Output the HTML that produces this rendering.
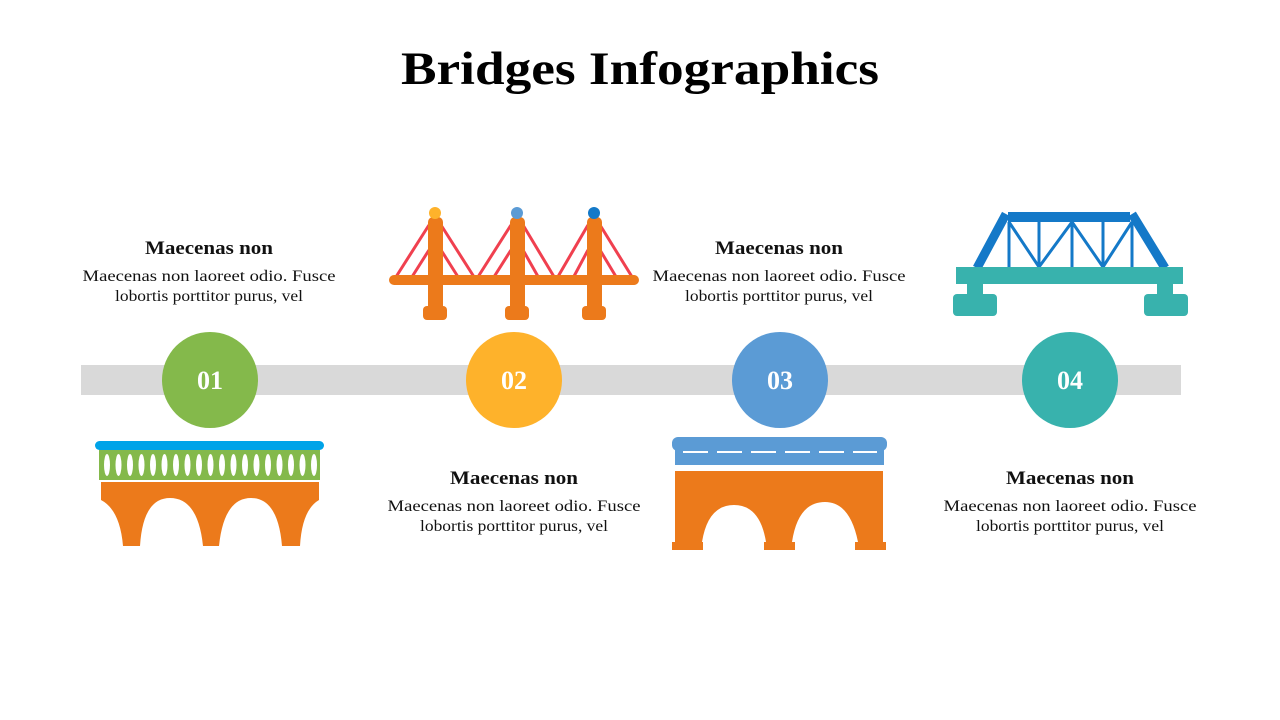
<!DOCTYPE html>
<html><head><meta charset="utf-8"><style>
html,body{margin:0;padding:0;background:#fff;}
svg{display:block;}
text{font-family:"Liberation Serif",serif;}
</style></head><body>
<svg width="1280" height="720" viewBox="0 0 1280 720" xmlns="http://www.w3.org/2000/svg">
<text x="640" y="84" text-anchor="middle" font-size="47" font-weight="bold" fill="#000" textLength="478" lengthAdjust="spacingAndGlyphs">Bridges Infographics</text>

<!-- timeline -->
<rect x="81" y="365" width="1100" height="30" fill="#d9d9d9"/>
<circle cx="210" cy="380" r="48" fill="#84b94b"/>
<circle cx="514" cy="380" r="48" fill="#feb22b"/>
<circle cx="780" cy="380" r="48" fill="#5b9bd5"/>
<circle cx="1070" cy="380" r="48" fill="#38b2ad"/>
<g font-size="26" font-weight="bold" fill="#fff" text-anchor="middle">
<text x="210" y="389">01</text><text x="514" y="389">02</text><text x="780" y="389">03</text><text x="1070" y="389">04</text>
</g>

<!-- text blocks -->
<g text-anchor="middle" fill="#111">
<g transform="translate(209,0)">
<text x="0" y="254" font-size="19" font-weight="bold" textLength="128" lengthAdjust="spacingAndGlyphs">Maecenas non</text>
<text x="0" y="281" font-size="16" textLength="253" lengthAdjust="spacingAndGlyphs">Maecenas non laoreet odio. Fusce</text>
<text x="0" y="301" font-size="16" textLength="188" lengthAdjust="spacingAndGlyphs">lobortis porttitor purus, vel</text>
</g>
<g transform="translate(779,0)">
<text x="0" y="254" font-size="19" font-weight="bold" textLength="128" lengthAdjust="spacingAndGlyphs">Maecenas non</text>
<text x="0" y="281" font-size="16" textLength="253" lengthAdjust="spacingAndGlyphs">Maecenas non laoreet odio. Fusce</text>
<text x="0" y="301" font-size="16" textLength="188" lengthAdjust="spacingAndGlyphs">lobortis porttitor purus, vel</text>
</g>
<g transform="translate(514,230)">
<text x="0" y="254" font-size="19" font-weight="bold" textLength="128" lengthAdjust="spacingAndGlyphs">Maecenas non</text>
<text x="0" y="281" font-size="16" textLength="253" lengthAdjust="spacingAndGlyphs">Maecenas non laoreet odio. Fusce</text>
<text x="0" y="301" font-size="16" textLength="188" lengthAdjust="spacingAndGlyphs">lobortis porttitor purus, vel</text>
</g>
<g transform="translate(1070,230)">
<text x="0" y="254" font-size="19" font-weight="bold" textLength="128" lengthAdjust="spacingAndGlyphs">Maecenas non</text>
<text x="0" y="281" font-size="16" textLength="253" lengthAdjust="spacingAndGlyphs">Maecenas non laoreet odio. Fusce</text>
<text x="0" y="301" font-size="16" textLength="188" lengthAdjust="spacingAndGlyphs">lobortis porttitor purus, vel</text>
</g>
</g>

<!-- bridge 1 -->
<rect x="95" y="441" width="229" height="9" rx="4.5" fill="#00a3e8"/>
<rect x="99" y="450" width="221" height="30" fill="#84b94b"/>
<g fill="#fff">
<ellipse cx="107" cy="465" rx="3" ry="11"/><ellipse cx="118.5" cy="465" rx="3" ry="11"/><ellipse cx="130" cy="465" rx="3" ry="11"/><ellipse cx="141.5" cy="465" rx="3" ry="11"/><ellipse cx="153" cy="465" rx="3" ry="11"/><ellipse cx="164.5" cy="465" rx="3" ry="11"/><ellipse cx="176" cy="465" rx="3" ry="11"/><ellipse cx="187.5" cy="465" rx="3" ry="11"/><ellipse cx="199" cy="465" rx="3" ry="11"/><ellipse cx="210.5" cy="465" rx="3" ry="11"/><ellipse cx="222" cy="465" rx="3" ry="11"/><ellipse cx="233.5" cy="465" rx="3" ry="11"/><ellipse cx="245" cy="465" rx="3" ry="11"/><ellipse cx="256.5" cy="465" rx="3" ry="11"/><ellipse cx="268" cy="465" rx="3" ry="11"/><ellipse cx="279.5" cy="465" rx="3" ry="11"/><ellipse cx="291" cy="465" rx="3" ry="11"/><ellipse cx="302.5" cy="465" rx="3" ry="11"/><ellipse cx="314" cy="465" rx="3" ry="11"/>
</g>
<path d="M101 482 H319 V500 Q302 510 300 546 H282 Q278 498 251 498 Q224 498 219 546 H203 Q198 498 170 498 Q143 498 140 546 H123 Q120 510 101 500 Z" fill="#ec7a1b"/>

<!-- bridge 2 -->
<g stroke="#f0404f" stroke-width="3" fill="none">
<path d="M429 225 L394 280 M429 250 L410 280 M441 225 L476 280 M441 250 L460 280"/>
<path d="M511 225 L476 280 M511 250 L492 280 M523 225 L556 280 M523 250 L540 280"/>
<path d="M588 225 L556 280 M588 250 L572 280 M600 225 L634 280 M600 250 L618 280"/>
</g>
<rect x="389" y="275" width="250" height="10" rx="5" fill="#ec7a1b"/>
<g fill="#ec7a1b">
<rect x="428" y="217" width="15" height="95" rx="5"/><rect x="423" y="306" width="24" height="14" rx="4"/>
<rect x="510" y="217" width="15" height="95" rx="5"/><rect x="505" y="306" width="24" height="14" rx="4"/>
<rect x="587" y="217" width="15" height="95" rx="5"/><rect x="582" y="306" width="24" height="14" rx="4"/>
</g>
<circle cx="435" cy="213" r="6" fill="#feb22b"/>
<circle cx="517" cy="213" r="6" fill="#5b9bd5"/>
<circle cx="594" cy="213" r="6" fill="#1479c8"/>

<!-- bridge 3 -->
<rect x="672" y="437" width="215" height="14" rx="6" fill="#5b9bd5"/>
<rect x="675" y="445" width="209" height="20" fill="#5b9bd5"/>
<line x1="683" y1="452" x2="877" y2="452" stroke="#fff" stroke-width="2" stroke-dasharray="25,9"/>
<path d="M675 471 H883 V542 H858 Q850 502 825 502 Q798 502 792 542 H766 Q760 505 734 505 Q708 505 702 542 H675 Z" fill="#ec7a1b"/>
<rect x="672" y="542" width="31" height="8" fill="#ec7a1b"/>
<rect x="764" y="542" width="31" height="8" fill="#ec7a1b"/>
<rect x="855" y="542" width="31" height="8" fill="#ec7a1b"/>

<!-- bridge 4 -->
<g fill="none" stroke="#1479c8">
<path d="M1008 217 H1130" stroke-width="10"/>
<path d="M1006 214 L977 268 M1132 214 L1165 268" stroke-width="9"/>
<path d="M1009 222 V267 M1039 222 V267 M1072 222 V267 M1103 222 V267 M1132 222 V267" stroke-width="3"/>
<path d="M1009 222 L1039 267 L1072 222 L1103 267 L1132 222" stroke-width="3"/>
</g>
<rect x="956" y="267" width="227" height="17" fill="#38b2ad"/>
<rect x="967" y="284" width="16" height="12" fill="#38b2ad"/>
<rect x="1157" y="284" width="16" height="12" fill="#38b2ad"/>
<rect x="953" y="294" width="44" height="22" rx="4" fill="#38b2ad"/>
<rect x="1144" y="294" width="44" height="22" rx="4" fill="#38b2ad"/>
</svg>
</body></html>
